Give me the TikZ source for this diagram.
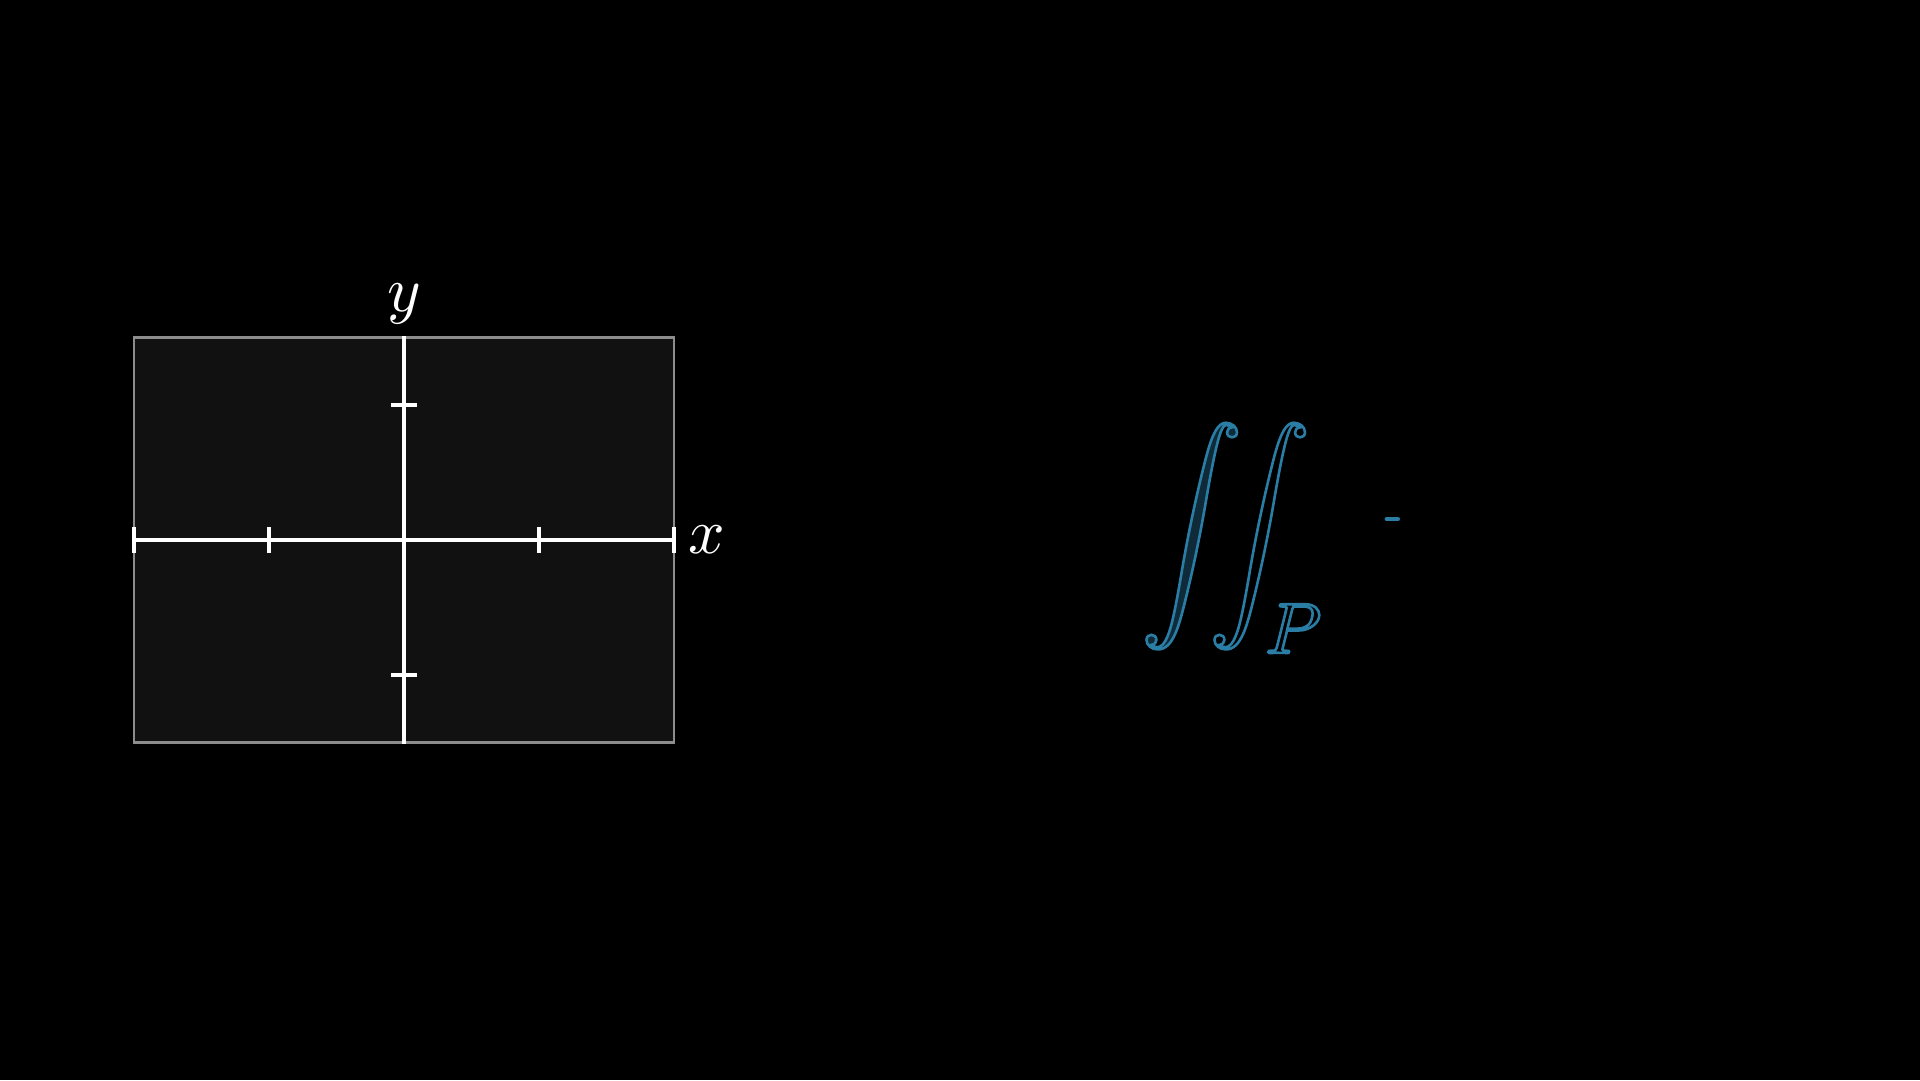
\documentclass[tikz,border=0pt]{standalone}
\usepackage{amsmath,amssymb}
\usepackage{xcolor}
\usepackage{tikz}
\usetikzlibrary{positioning}
\DeclareFontShape{OMX}{cmex}{m}{n}{<-> cmex10}{}
\DeclareFontShape{OML}{cmm}{m}{it}{<-> cmmi10}{}
\DeclareFontShape{OMS}{cmsy}{m}{n}{<-> cmsy10}{}
\definecolor{intblue}{HTML}{2A7DA5}
\definecolor{intfill}{HTML}{0F2A38}
\definecolor{planefill}{HTML}{111111}
% outlined glyphs: fill with #1, stroke in intblue
\newcommand{\outl}[1]{\color{#1}\special{pdf:literal direct 0.165 0.49 0.647 RG 2 Tr 0.55 w}}
\newcommand{\outloff}{\special{pdf:literal direct 0 Tr}}
\tikzstyle{plane} = [draw=black!45, fill=planefill, line width=0.6pt,
   minimum width=4cm, minimum height=3cm, inner sep=0pt]
\tikzstyle{axis} = [draw=white, line width=0.7pt]
\tikzstyle{tick} = [draw=white, line width=0.7pt]
\tikzstyle{axislabel} = [text=white, inner sep=0pt, font=\fontsize{13.5}{16}\selectfont]
\tikzstyle{integral} = [inner sep=0pt, font=\fontsize{21.5}{26}\selectfont]

\begin{document}
\begin{tikzpicture}[node distance=1.2cm]

\useasboundingbox [fill=black] (-2.993,-4) rectangle (11.229,4);

\node (xy) [plane] at (0,0) {};

\draw [axis] (xy.west) -- (xy.east);
\draw [axis] (xy.south) -- (xy.north);

\draw [tick] (-2,-0.095) -- (-2,0.095);
\draw [tick] (-1,-0.095) -- (-1,0.095);
\draw [tick] (1,-0.095) -- (1,0.095);
\draw [tick] (2,-0.095) -- (2,0.095);
\draw [tick] (-0.095,1) -- (0.095,1);
\draw [tick] (-0.095,-1) -- (0.095,-1);

\node (ylab) [axislabel, above=0.08cm of xy.north] {$y$};
\node (xlab) [axislabel, right=0.09cm of xy.east] {$x$};

\node (intg) [integral, anchor=base west] at (5.45,-0.16)
   {$\displaystyle \outl{intfill}\int\mkern-9mu \outl{black}\int_{P}\outloff$};

\draw [intblue, line width=1pt, line cap=round] (7.28,0.155) -- (7.36,0.155);

\end{tikzpicture}
\end{document}
